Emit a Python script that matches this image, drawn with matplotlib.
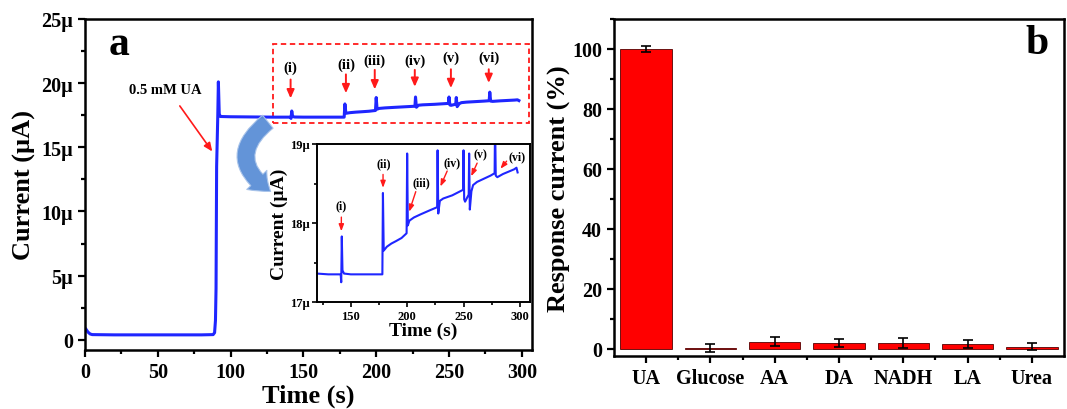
import matplotlib
matplotlib.use("Agg")
import matplotlib.pyplot as plt
from matplotlib.ticker import MultipleLocator, FuncFormatter, FixedLocator
from matplotlib.patches import Rectangle, FancyArrowPatch

plt.rcParams['font.family'] = ['Liberation Serif', 'DejaVu Serif']
plt.rcParams['font.weight'] = 'bold'
plt.rcParams['axes.labelweight'] = 'bold'
plt.rcParams['mathtext.default'] = 'regular'

# ---------------- data: amperometric trace (s, µA) ----------------
time_s = [0, 0.5, 2, 3.5, 5, 20, 40, 60, 80, 88, 89, 89.6, 90, 90.4, 90.8, 91.2, 91.6, 92.2, 93,
          100, 120, 130, 141, 141.5, 142, 142.6, 144, 150, 160, 170, 178, 178.5, 179.2,
          182, 186, 190, 195, 199.5, 200, 200.6, 202, 206, 212, 220, 226.6, 227, 227.6,
          229, 232, 240, 249.6, 250, 250.6, 251.4, 254.6, 255, 255.6, 257, 258.5, 262,
          268, 274, 277.6, 278, 278.6, 280, 285, 290, 295, 297, 298]
current_uA = [0.9, 0.85, 0.6, 0.45, 0.4, 0.38, 0.38, 0.38, 0.38, 0.4, 0.55, 1.5, 4.0, 13.5, 15.5, 17.5, 20.1, 17.6, 17.4,
              17.38, 17.36, 17.35, 17.35, 17.25, 17.83, 17.4, 17.36, 17.35, 17.35, 17.35, 17.35, 18.38, 17.65,
              17.7, 17.74, 17.77, 17.81, 17.87, 18.88, 17.97, 18.03, 18.07, 18.11, 18.16, 18.2, 18.92, 18.12,
              18.28, 18.31, 18.35, 18.42, 18.92, 18.3, 18.27, 18.36, 18.88, 18.17, 18.4, 18.48, 18.52,
              18.56, 18.6, 18.63, 19.3, 18.6, 18.58, 18.62, 18.65, 18.68, 18.7, 18.64]

addition_labels = ['(i)', '(ii)', '(iii)', '(iv)', '(v)', '(vi)']
addition_times = [141.2, 179.2, 199, 226.5, 251.3, 277.3]

# ---------------- data: selectivity bars ----------------
species = ['UA', 'Glucose', 'AA', 'DA', 'NADH', 'LA', 'Urea']
response_pct = [100, 0.2, 2.3, 1.8, 1.8, 1.45, 0.55]
response_err = [0.9, 1.2, 1.5, 1.3, 1.6, 1.3, 1.2]

W, H = 1067, 410
fig = plt.figure(figsize=(W / 100, H / 100), dpi=100)

def fx(px):
    return px / W

def fy(py):
    return 1 - py / H

blue = '#1f26ff'
red = '#ff1a1a'

# ---------------- panel a ----------------
ax = fig.add_axes([fx(85), fy(351), fx(532) - fx(85), fy(20) - fy(351)])
ax.plot(time_s, current_uA, color=blue, lw=2.2)
ax.set_xlim(0, 307)
ax.set_ylim(-0.8, 25)
ax.xaxis.set_major_locator(MultipleLocator(50))
ax.xaxis.set_minor_locator(MultipleLocator(25))
ax.yaxis.set_major_locator(MultipleLocator(5))
ax.yaxis.set_minor_locator(MultipleLocator(2.5))
ax.yaxis.set_major_formatter(FuncFormatter(lambda v, p: '0' if abs(v) < 1e-9 else f'{v:g}µ'))
ax.tick_params(which='both', direction='out', width=1.6, labelsize=14.5)
ax.tick_params(which='major', length=5)
ax.tick_params(which='minor', length=3)
for s in ax.spines.values():
    s.set_linewidth(1.8)
ax.set_xlabel('Time (s)', fontsize=19, labelpad=1)
ax.set_ylabel('Current (µA)', fontsize=19, labelpad=4)
ax.text(0.076, 0.925, 'a', transform=ax.transAxes, fontsize=30, fontweight='bold',
        ha='center', va='center')

# red dashed box
ax.add_patch(Rectangle((129, 16.9), 304.8 - 129, 23.05 - 16.9, fill=False,
                       edgecolor=red, lw=1.3, ls=(0, (3, 2))))

# addition labels + arrows in main plot
lab_y = [21.2, 21.5, 21.8, 21.8, 22.0, 22.0]
arr_start = [20.5, 20.9, 21.25, 21.25, 21.3, 21.3]
arr_end = [18.6, 19.0, 19.3, 19.5, 19.4, 19.8]
for lab, t, ly, a0, a1 in zip(addition_labels, addition_times, lab_y, arr_start, arr_end):
    ax.text(t, ly, lab, fontsize=10.5, fontweight='bold', ha='center', va='center')
    ax.annotate('', xy=(t, a1), xytext=(t, a0),
                arrowprops=dict(arrowstyle='-|>,head_length=0.5,head_width=0.22',
                                color=red, lw=1.4))

ax.text(55, 19.5, '0.5 mM UA', fontsize=10.5, fontweight='bold', ha='center', va='center')
ax.annotate('', xy=(88.5, 14.5), xytext=(64, 18.4),
            arrowprops=dict(arrowstyle='-|>,head_length=0.5,head_width=0.22', color=red, lw=1.2))

# curved blue arrow (figure coords)
arr = FancyArrowPatch((fx(270), fy(121)), (fx(273), fy(194)), transform=fig.transFigure,
                      connectionstyle='arc3,rad=0.7',
                      arrowstyle='simple,head_width=20,head_length=13,tail_width=12',
                      facecolor='#5b8ed6', edgecolor='#a9c4ea', lw=0.8, alpha=0.95, zorder=5)
fig.patches.append(arr)

# ---------------- inset ----------------
ins = fig.add_axes([fx(317), fy(303), fx(530) - fx(317), fy(145) - fy(303)])
ins.plot(time_s, current_uA, color=blue, lw=1.5)
ins.set_xlim(120, 309)
ins.set_ylim(17, 19)
ins.xaxis.set_major_locator(FixedLocator([150, 200, 250, 300]))
ins.xaxis.set_minor_locator(FixedLocator([125, 175, 225, 275]))
ins.yaxis.set_major_locator(MultipleLocator(1))
ins.yaxis.set_minor_locator(MultipleLocator(0.5))
ins.yaxis.set_major_formatter(FuncFormatter(lambda v, p: f'{v:g}µ'))
ins.tick_params(which='both', direction='out', width=1.2, labelsize=9, pad=2)
ins.tick_params(which='major', length=3.5)
ins.tick_params(which='minor', length=2)
for s in ins.spines.values():
    s.set_linewidth(1.4)
ins.set_xlabel('Time (s)', fontsize=14, labelpad=0)
ins.set_ylabel('Current (µA)', fontsize=14, labelpad=1)

ins_lab_xy = [(141, 18.22), (178.9, 18.76), (212.9, 18.52), (239.5, 18.77), (265.2, 18.87), (297.2, 18.85)]
ins_arr_from = [(141.6, 18.11), (178.6, 18.65), (208.4, 18.43), (236.5, 18.69), (263.1, 18.79), (289.8, 18.81)]
ins_arr_to = [(141.6, 17.86), (178.6, 18.41), (201, 18.11), (228.5, 18.43), (255.8, 18.56), (281.2, 18.66)]
for lab, (lx, ly), a0, a1 in zip(addition_labels, ins_lab_xy, ins_arr_from, ins_arr_to):
    ins.text(lx, ly, lab, fontsize=8.5, fontweight='bold', ha='center', va='center')
    ins.annotate('', xy=a1, xytext=a0,
                 arrowprops=dict(arrowstyle='-|>,head_length=0.4,head_width=0.15',
                                 color=red, lw=1.0))

# ---------------- panel b ----------------
bx = fig.add_axes([fx(614), fy(357), fx(1064) - fx(614), fy(20) - fy(357)])
pos = list(range(len(species)))
bx.bar(pos, response_pct, width=0.8, color='#ff0000', edgecolor='#550000', linewidth=0.6)
bx.errorbar(pos, response_pct, yerr=response_err, fmt='none', ecolor='black',
            elinewidth=1.2, capsize=3.5, capthick=1.2)
bx.set_xlim(-0.5, len(species) - 0.5)
bx.set_ylim(-2.5, 110)
bx.set_xticks(pos)
bx.set_xticklabels(species)
bx.xaxis.set_minor_locator(FixedLocator([p + 0.5 for p in pos[:-1]]))
bx.yaxis.set_major_locator(MultipleLocator(20))
bx.yaxis.set_minor_locator(MultipleLocator(10))
bx.tick_params(which='both', direction='out', width=1.6, labelsize=14.5)
bx.tick_params(which='major', length=5)
bx.tick_params(which='minor', length=3)
for s in bx.spines.values():
    s.set_linewidth(1.8)
bx.set_ylabel('Response current (%)', fontsize=19, labelpad=1)
bx.text(0.94, 0.93, 'b', transform=bx.transAxes, fontsize=30, fontweight='bold',
        ha='center', va='center')

fig.savefig('out.png', dpi=100)
